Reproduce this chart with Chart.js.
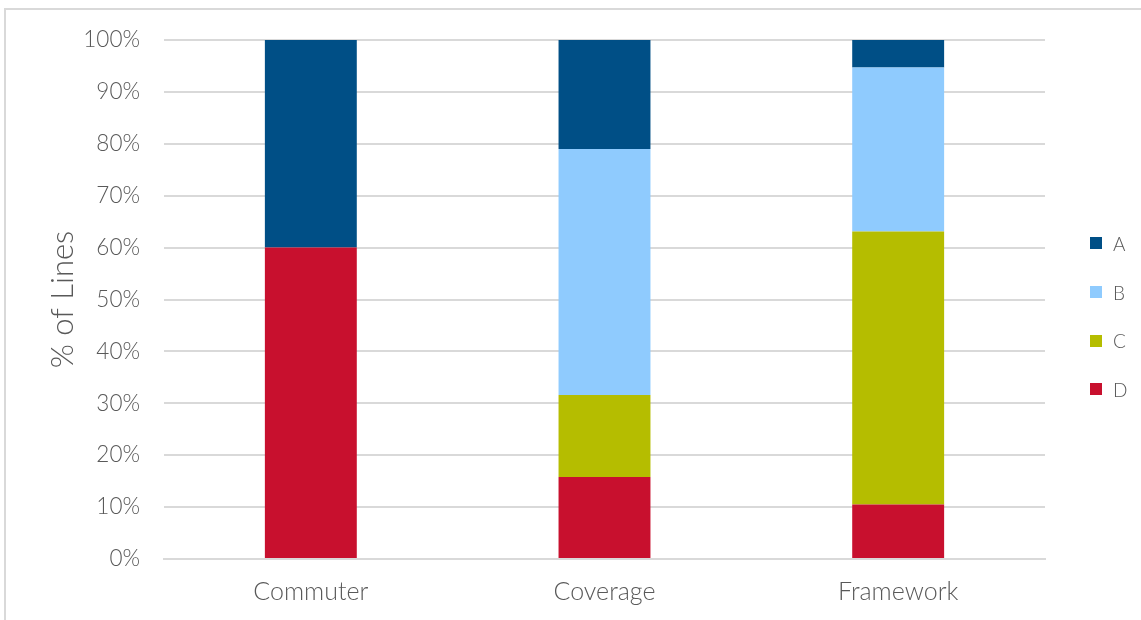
<!DOCTYPE html>
<html>
<head>
<meta charset="utf-8">
<script src="https://cdn.jsdelivr.net/npm/chart.js@4"></script>
<style>
    html, body { margin: 0; padding: 0; background: #fff; }
    #wrap {
        position: absolute;
        left: 4px; top: 8px;
        width: 1137px; height: 612px;
        border-top: 2px solid #d9d9d9;
        border-left: 2px solid #d9d9d9;
    }
    #chart { display: block; }
    #legend {
        position: absolute;
        left: 1084px; top: 209px;
        font-family: Lato, "Open Sans", sans-serif;
        font-weight: 300;
        font-size: 19px;
        color: #595959;
    }
    .legend-item { display: flex; align-items: center; height: 48.7px; }
    .legend-box { width: 12px; height: 12px; margin-right: 11px; }
</style>
</head>
<body>
<div id="wrap"><canvas id="chart" width="1137" height="612"></canvas><div id="legend"></div></div>
<script>
// Share of lines per category (percent)
const categories = ['Commuter', 'Coverage', 'Framework'];
const seriesA = [40, 21.1, 5.3];
const seriesB = [0, 47.4, 31.6];
const seriesC = [0, 15.8, 52.6];
const seriesD = [60, 15.8, 10.5];
const yTicks = [0, 10, 20, 30, 40, 50, 60, 70, 80, 90, 100];

const textColor = '#595959';
const fontFamily = 'Lato, "Open Sans", sans-serif';

// stacked bottom-up: D, C, B, A
const datasets = [
    { label: 'D', data: seriesD, backgroundColor: '#c8102e' },
    { label: 'C', data: seriesC, backgroundColor: '#b5bd00' },
    { label: 'B', data: seriesB, backgroundColor: '#8fcbfe' },
    { label: 'A', data: seriesA, backgroundColor: '#004f86' }
].map(ds => ({ ...ds, barPercentage: 0.313, categoryPercentage: 1.0, borderWidth: 0 }));

function drawChart() {
    const ctx = document.getElementById('chart').getContext('2d');
    const chart = new Chart(ctx, {
        type: 'bar',
        data: { labels: categories, datasets: datasets },
        options: {
            responsive: false,
            animation: false,
            layout: { padding: { top: 30, right: 98, bottom: 13, left: 38 } },
            plugins: {
                tooltip: { enabled: false },
                legend: { display: false }
            },
            scales: {
                x: {
                    stacked: true,
                    grid: { display: false },
                    border: { color: '#d9d9d9', width: 2 },
                    afterFit: axis => { axis.height = 50; },
                    ticks: {
                        color: textColor,
                        padding: 10,
                        font: { family: fontFamily, size: 25, weight: 300 }
                    }
                },
                y: {
                    stacked: true,
                    min: 0,
                    max: 100,
                    afterBuildTicks: axis => { axis.ticks = yTicks.map(v => ({ value: v })); },
                    afterFit: axis => {
                        axis.width = 120;
                        axis.paddingTop = 0;
                        axis.paddingBottom = 0;
                    },
                    grid: { color: '#d9d9d9', lineWidth: 2, drawTicks: false },
                    border: { display: false },
                    ticks: {
                        color: textColor,
                        padding: 24,
                        font: { family: fontFamily, size: 22.5, weight: 300 },
                        callback: v => v + '%'
                    },
                    title: {
                        display: true,
                        text: '% of Lines',
                        color: textColor,
                        padding: { top: 0, bottom: 4 },
                        font: { family: fontFamily, size: 31, weight: 300 }
                    }
                }
            }
        }
    });

    // legend, top to bottom A..D
    const legendEl = document.getElementById('legend');
    chart.data.datasets.slice().reverse().forEach(ds => {
        const item = document.createElement('div');
        item.className = 'legend-item';
        item.innerHTML = `<span class="legend-box" style="background:${ds.backgroundColor}"></span><span>${ds.label}</span>`;
        legendEl.appendChild(item);
    });
}

// make sure the light face is ready before Chart.js measures text
document.fonts.load('300 20px Lato').then(drawChart, drawChart);
</script>
</body>
</html>
